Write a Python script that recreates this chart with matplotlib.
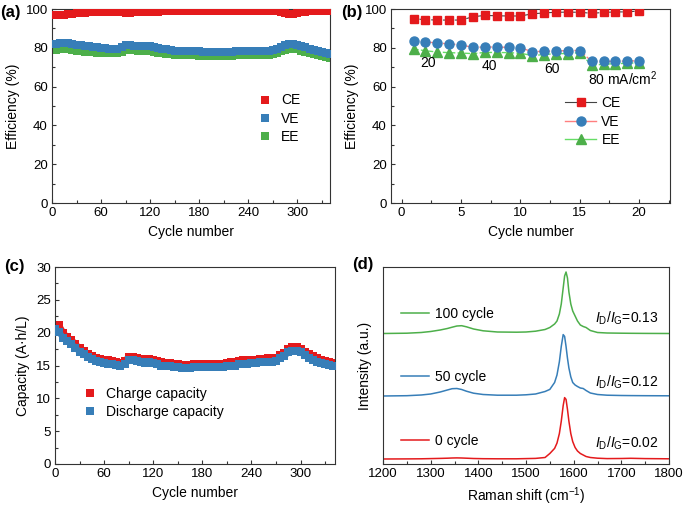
import numpy as np
import matplotlib
matplotlib.use("Agg")
import matplotlib.pyplot as plt
from matplotlib.lines import Line2D
from matplotlib.ticker import MultipleLocator

plt.rcParams['font.family'] = ['Liberation Sans', 'DejaVu Sans']
plt.rcParams['mathtext.fontset'] = 'custom'
plt.rcParams['mathtext.rm'] = 'Liberation Sans'
plt.rcParams['mathtext.it'] = 'Liberation Sans:italic'
plt.rcParams['mathtext.bf'] = 'Liberation Sans:bold'

RED = '#e41a1c'
BLUE = '#377eb8'
GREEN = '#4daf4a'

# ---------------- (a) long cycling efficiency (every 5 cycles) ----------------
cyc_a = np.arange(0, 341, 5)
ce_a = [96.8, 96.8, 96.9, 97.0, 97.2, 97.5, 97.7, 97.9, 98.1, 98.2, 98.3, 98.4, 98.5,
        98.6, 98.6, 98.7, 98.7, 98.5, 98.0, 98.0, 98.2, 98.3, 98.4, 98.5, 98.6, 98.7,
        98.7, 98.8, 98.8, 98.8, 98.9, 98.9, 98.9, 98.9, 98.9, 98.9, 98.9, 98.9, 98.9,
        98.9, 98.9, 98.9, 98.9, 98.9, 98.9, 98.9, 98.9, 98.9, 98.9, 98.9, 98.9, 98.9,
        98.9, 98.9, 98.9, 98.8, 98.5, 97.9, 97.6, 97.6, 97.9, 98.3, 98.6, 98.8, 98.9,
        98.9, 98.9, 98.9, 98.9]
ve_a = [82.0, 82.2, 82.4, 82.6, 82.5, 82.0, 81.6, 81.3, 81.0, 80.7, 80.4, 80.2, 80.0,
        79.8, 79.6, 79.5, 79.4, 80.3, 81.4, 81.3, 81.0, 80.9, 81.0, 81.1, 80.7, 80.2,
        79.8, 79.5, 79.2, 78.9, 78.6, 78.4, 78.3, 78.3, 78.2, 78.2, 78.1, 78.0, 78.0,
        77.8, 77.7, 77.6, 77.6, 77.7, 78.0, 78.3, 78.4, 78.4, 78.4, 78.4, 78.4, 78.4,
        78.4, 78.5, 78.7, 79.5, 80.4, 81.3, 82.0, 82.0, 81.7, 81.0, 80.3, 79.6, 79.0,
        78.5, 78.0, 77.4, 77.0]
ee_a = [79.0, 79.1, 79.3, 79.5, 79.4, 79.0, 78.6, 78.3, 78.0, 77.8, 77.6, 77.5, 77.4,
        77.3, 77.2, 77.2, 77.2, 78.0, 79.0, 78.9, 78.7, 78.6, 78.6, 78.6, 78.2, 77.8,
        77.4, 77.1, 76.9, 76.7, 76.5, 76.3, 76.2, 76.2, 76.1, 76.1, 76.0, 76.0, 76.0,
        75.9, 75.8, 75.7, 75.7, 75.8, 76.0, 76.2, 76.3, 76.3, 76.3, 76.3, 76.3, 76.3,
        76.3, 76.4, 76.6, 77.3, 78.1, 78.9, 79.5, 79.5, 79.2, 78.5, 77.8, 77.1, 76.6,
        76.1, 75.6, 75.1, 74.8]

# ---------------- (b) rate performance ----------------
cyc_b = np.arange(1, 21)
ce_b = [95.0, 94.5, 94.3, 94.3, 94.3, 96.0, 96.7, 96.5, 96.4, 96.4,
        97.5, 98.0, 98.3, 98.4, 98.3, 97.8, 98.2, 98.5, 98.5, 99.0]
ve_b = [83.5, 83.0, 82.5, 82.0, 81.5, 80.2, 80.4, 80.4, 80.2, 80.0,
        78.0, 78.2, 78.3, 78.6, 78.6, 73.0, 73.0, 73.0, 73.2, 73.3]
ee_b = [79.3, 78.5, 77.8, 77.5, 77.3, 77.0, 77.6, 77.6, 77.5, 77.2,
        76.0, 76.5, 77.0, 77.0, 77.5, 71.0, 71.5, 71.8, 72.0, 72.3]
rate_labels = ['20', '40', '60', r'80 mA/cm$^2$']
rate_x = [2.2, 7.4, 12.7, 18.6]
rate_y = [72, 70.5, 69, 64]

# ---------------- (c) capacity (every 5 cycles) ----------------
cyc_c = np.arange(0, 341, 5)
charge_c = [21.2, 21.1, 20.0, 19.3, 18.9, 18.3, 17.6, 17.2, 16.8, 16.5, 16.2, 16.0, 15.9,
            15.8, 15.7, 15.6, 15.4, 15.7, 16.3, 16.3, 16.2, 16.0, 15.9, 16.0, 15.9, 15.7,
            15.5, 15.4, 15.4, 15.3, 15.2, 15.1, 15.1, 15.1, 15.2, 15.2, 15.2, 15.3, 15.3,
            15.3, 15.3, 15.3, 15.4, 15.5, 15.5, 15.7, 15.8, 15.8, 15.9, 15.9, 16.0, 16.0,
            16.1, 16.1, 16.2, 16.6, 16.9, 17.5, 17.8, 17.8, 17.5, 17.1, 16.7, 16.4, 16.1,
            15.9, 15.7, 15.5, 15.4]
discharge_c = [20.6, 20.1, 19.2, 18.7, 18.3, 17.7, 17.1, 16.7, 16.3, 16.0, 15.7, 15.5, 15.4,
               15.3, 15.2, 15.1, 14.9, 15.2, 15.8, 15.8, 15.7, 15.5, 15.4, 15.5, 15.4, 15.2,
               15.0, 14.9, 14.9, 14.8, 14.7, 14.6, 14.6, 14.6, 14.7, 14.7, 14.7, 14.8, 14.8,
               14.8, 14.8, 14.8, 14.9, 15.0, 15.0, 15.2, 15.3, 15.3, 15.4, 15.4, 15.5, 15.5,
               15.6, 15.6, 15.7, 16.1, 16.4, 17.0, 17.2, 17.2, 17.0, 16.6, 16.2, 15.9, 15.6,
               15.4, 15.2, 15.1, 15.0]

# ---------------- (d) Raman spectra ----------------
raman_x = [1200, 1250, 1280, 1300, 1320, 1335, 1345, 1355, 1365, 1375, 1390, 1410, 1440,
           1480, 1500, 1520, 1540, 1550, 1560, 1565, 1570, 1574, 1578, 1581, 1584, 1587,
           1590, 1594, 1598, 1603, 1608, 1614, 1620, 1626, 1635, 1650, 1670, 1700, 1720,
           1750, 1800]
raman_0 = [5.0, 5.1, 5.2, 5.4, 5.6, 5.8, 6.0, 6.1, 6.0, 5.8, 5.5, 5.3, 5.2,
           5.2, 5.4, 5.6, 6.5, 10.5, 15.6, 20.9, 30.4, 42.8, 58.4, 66.4, 64.6, 54.6,
           42.8, 30.4, 22.4, 16.5, 13.0, 10.5, 9.0, 7.5, 6.5, 5.8, 5.4, 5.5, 5.7,
           5.4, 5.2]
raman_50 = [68.0, 68.3, 69.0, 70.0, 72.0, 74.0, 75.3, 75.5, 74.5, 72.8, 70.8, 69.5, 68.8,
            68.8, 69.2, 70.0, 72.5, 74.6, 81.5, 89.0, 102.2, 117.6, 129.4, 127.6, 117.6, 105.8,
            96.0, 87.1, 81.5, 79.0, 77.5, 76.0, 75.5, 73.5, 71.0, 69.5, 68.8, 68.5, 68.4,
            68.3, 68.2]
raman_100 = [130.5, 130.8, 131.5, 132.5, 134.0, 135.5, 136.8, 138.0, 138.3, 137.2, 135.0, 133.2, 132.0,
             131.8, 132.0, 132.8, 134.5, 136.5, 140.0, 143.0, 150.0, 160.0, 176.0, 188.0, 192.0, 186.0,
             172.0, 160.0, 153.0, 148.0, 143.0, 139.0, 137.5, 136.5, 133.5, 131.5, 131.0, 130.8, 130.7,
             130.6, 130.5]
raman_labels = ['100 cycle', '50 cycle', '0 cycle']
ratio_labels = ['0.13', '0.12', '0.02']

FS_TICK = 9.5
FS_LAB = 10
MS_BAND = 6
LW_BAND = 4.4

fig = plt.figure(figsize=(6.85, 5.07), dpi=100)
W, H = 685.0, 507.0

def make_ax(l, r, t, b):
    return fig.add_axes([l / W, 1 - b / H, (r - l) / W, (b - t) / H])

axA = make_ax(52, 330, 9, 203)
axB = make_ax(391, 670, 9, 203)
axC = make_ax(55, 335, 267, 464)
axD = make_ax(383, 669, 267, 464)

def style(ax):
    for s in ax.spines.values():
        s.set_linewidth(0.8)
        s.set_color('#333333')
    ax.tick_params(which='both', direction='in', labelsize=FS_TICK, top=False, right=False,
                   width=0.8, color='#333333', pad=3)
    ax.tick_params(which='major', length=3)
    ax.tick_params(which='minor', length=2)

def band(ax, x, y, c, z):
    ax.plot(x, y, '-', color=c, lw=LW_BAND, solid_joinstyle='round', zorder=z)
    ax.plot(x, y, 's', color=c, ms=MS_BAND, mew=0, zorder=z)

# (a)
band(axA, cyc_a, ce_a, RED, 3)
band(axA, cyc_a, ee_a, GREEN, 2)
band(axA, cyc_a, ve_a, BLUE, 3)
axA.set_xlim(0, 340)
axA.set_ylim(0, 100)
axA.xaxis.set_major_locator(MultipleLocator(60))
axA.xaxis.set_minor_locator(MultipleLocator(30))
axA.yaxis.set_major_locator(MultipleLocator(20))
axA.yaxis.set_minor_locator(MultipleLocator(10))
axA.set_xlabel('Cycle number', fontsize=FS_LAB)
axA.set_ylabel('Efficiency (%)', fontsize=FS_LAB)
style(axA)
hA = [Line2D([], [], ls='none', marker='s', color=c, ms=5.5, mew=0) for c in (RED, BLUE, GREEN)]
axA.legend(hA, ['CE', 'VE', 'EE'], loc='center left', bbox_to_anchor=(0.69, 0.435),
           frameon=False, fontsize=FS_LAB, handletextpad=0.6, labelspacing=0.3,
           handlelength=1.2)

# (b)
axB.plot(cyc_b, ce_b, '--', color='#444444', lw=0.8, marker='s', ms=6, mfc=RED, mec=RED, zorder=3)
axB.plot(cyc_b, ve_b, '--', color='#ff7f7f', lw=1.0, marker='o', ms=6.5, mfc=BLUE, mec=BLUE, zorder=3)
axB.plot(cyc_b, ee_b, '--', color='#66dd66', lw=1.0, marker='^', ms=6.5, mfc=GREEN, mec=GREEN, zorder=2)
for lab, x, y in zip(rate_labels, rate_x, rate_y):
    axB.text(x, y, lab, fontsize=FS_LAB, ha='center', va='center')
axB.set_xlim(-0.9, 22.6)
axB.set_ylim(0, 100)
axB.xaxis.set_major_locator(MultipleLocator(5))
axB.xaxis.set_minor_locator(MultipleLocator(2.5))
axB.yaxis.set_major_locator(MultipleLocator(20))
axB.yaxis.set_minor_locator(MultipleLocator(10))
axB.set_xlabel('Cycle number', fontsize=FS_LAB)
axB.set_ylabel('Efficiency (%)', fontsize=FS_LAB)
style(axB)
hB = [Line2D([], [], color='#444444', lw=0.8, marker='s', ms=6, mfc=RED, mec=RED),
      Line2D([], [], color='#ff7f7f', lw=1.0, marker='o', ms=6.5, mfc=BLUE, mec=BLUE),
      Line2D([], [], color='#66dd66', lw=1.0, marker='^', ms=6.5, mfc=GREEN, mec=GREEN)]
axB.legend(hB, ['CE', 'VE', 'EE'], loc='center left', bbox_to_anchor=(0.58, 0.42),
           frameon=False, fontsize=FS_LAB, handletextpad=0.4, labelspacing=0.3,
           handlelength=2.2)

# (c)
band(axC, cyc_c, charge_c, RED, 2)
band(axC, cyc_c, discharge_c, BLUE, 3)
axC.set_xlim(0, 342)
axC.set_ylim(0, 30)
axC.xaxis.set_major_locator(MultipleLocator(60))
axC.xaxis.set_minor_locator(MultipleLocator(30))
axC.yaxis.set_major_locator(MultipleLocator(5))
axC.yaxis.set_minor_locator(MultipleLocator(2.5))
axC.set_xlabel('Cycle number', fontsize=FS_LAB)
axC.set_ylabel('Capacity (A\u00b7h/L)', fontsize=FS_LAB)
style(axC)
hC = [Line2D([], [], ls='none', marker='s', color=c, ms=5.5, mew=0) for c in (RED, BLUE)]
axC.legend(hC, ['Charge capacity', 'Discharge capacity'], loc='center left',
           bbox_to_anchor=(0.05, 0.31), frameon=False, fontsize=FS_LAB,
           handletextpad=0.6, labelspacing=0.3, handlelength=1.2)

# (d)
colsD = [GREEN, BLUE, RED]
for ys, c in zip([raman_100, raman_50, raman_0], colsD):
    axD.plot(raman_x, ys, '-', color=c, lw=1.1)
axD.set_xlim(1200, 1800)
axD.set_ylim(0, 197)
axD.set_yticks([])
axD.xaxis.set_major_locator(MultipleLocator(100))
axD.xaxis.set_minor_locator(MultipleLocator(50))
axD.set_xlabel(r'Raman shift (cm$^{-1}$)', fontsize=FS_LAB)
axD.set_ylabel('Intensity (a.u.)', fontsize=FS_LAB, labelpad=8)
style(axD)
hD = [Line2D([], [], color=c, lw=1.1) for c in colsD]
axD.legend(hD, raman_labels, loc='center left', bbox_to_anchor=(0.02, 0.44),
           frameon=False, fontsize=FS_LAB, handletextpad=0.4, labelspacing=3.55,
           handlelength=2.0)
for lab, yy in zip(ratio_labels, [0.741, 0.416, 0.107]):
    axD.text(0.962, yy, r'$I_\mathrm{D}/I_\mathrm{G}$=' + lab, transform=axD.transAxes,
             ha='right', va='center', fontsize=FS_LAB)

# panel labels
for lab, x, y in [('(a)', 0, 13), ('(b)', 341, 13), ('(c)', 4, 267), ('(d)', 352, 265)]:
    fig.text(x / W, 1 - y / H, lab, fontsize=12, fontweight='bold', ha='left', va='center')

fig.savefig('out.png', dpi=100)
